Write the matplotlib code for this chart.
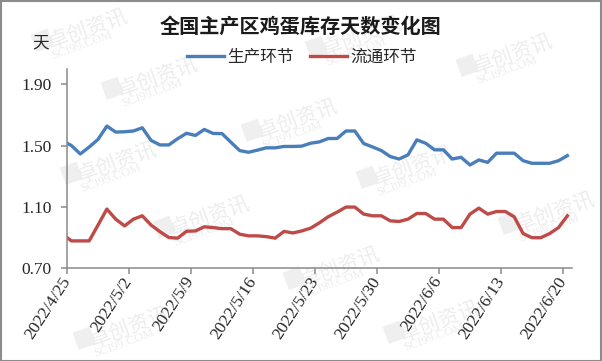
import matplotlib
matplotlib.use("Agg")
import matplotlib.pyplot as plt
import matplotlib.transforms as mtransforms
from matplotlib.patches import Rectangle
import numpy as np
import pandas as pd

plt.rcParams['font.family'] = ['Noto Sans CJK SC', 'DejaVu Sans']

# daily data, 2022/4/24 .. 2022/6/20 (first day is clipped by the axis)
dates = pd.date_range("2022-04-24", "2022-06-20", freq="D")
production = [1.53, 1.50, 1.445, 1.49, 1.54, 1.627, 1.588, 1.59, 1.595, 1.616,
              1.533, 1.504, 1.504, 1.545, 1.58, 1.566, 1.605, 1.579, 1.578, 1.522,
              1.467, 1.456, 1.47, 1.485, 1.485, 1.494, 1.494, 1.496, 1.515, 1.524,
              1.546, 1.546, 1.595, 1.595, 1.513, 1.491, 1.467, 1.428, 1.412, 1.439,
              1.537, 1.515, 1.472, 1.472, 1.412, 1.423, 1.373, 1.406, 1.39, 1.45,
              1.45, 1.45, 1.401, 1.384, 1.384, 1.384, 1.401, 1.434]
circulation = [0.92, 0.877, 0.877, 0.877, 0.98, 1.085, 1.019, 0.975, 1.019, 1.041,
               0.98, 0.937, 0.899, 0.895, 0.94, 0.942, 0.969, 0.964, 0.957, 0.957,
               0.921, 0.91, 0.91, 0.905, 0.895, 0.939, 0.929, 0.942, 0.96, 0.995,
               1.035, 1.065, 1.098, 1.098, 1.052, 1.041, 1.041, 1.008, 1.004, 1.019,
               1.056, 1.056, 1.019, 1.019, 0.964, 0.964, 1.052, 1.091, 1.052, 1.069,
               1.069, 1.034, 0.925, 0.898, 0.898, 0.925, 0.964, 1.041]
tick_dates = pd.date_range("2022-04-25", "2022-06-20", freq="7D")
tick_labels = [f"{d.year}/{d.month}/{d.day}" for d in tick_dates]
y_ticks = [0.70, 1.10, 1.50, 1.90]

W, H = 602, 361
fig = plt.figure(figsize=(W / 100, H / 100), dpi=100)

# faint watermarks (behind the chart)
wm_pos = [(88, 30), (362, 37), (158, 78), (513, 55), (298, 120), (117, 163),
          (210, 217), (413, 167), (555, 213), (130, 328), (440, 322), (340, 268)]
for cx, cy in wm_pos:
    fig.text(cx / W, 1 - cy / H, "卓创资讯", fontsize=15, color="#ededed",
             rotation=20, ha="center", va="center", zorder=0)
    fig.text((cx - 6) / W, 1 - (cy + 15) / H, "SCI99.COM", fontsize=9,
             color="#ededed", rotation=20, ha="center", va="center",
             family="Liberation Serif", zorder=0)
    fig.text((cx - 46) / W, 1 - (cy + 9) / H, "■", fontsize=17, color="#efefef",
             rotation=20, ha="center", va="center", family="DejaVu Sans", zorder=0)

ax = fig.add_axes([67 / W, 1 - 268 / H, 504.8 / W, 199 / H])
ax.set_zorder(1)
ax.patch.set_alpha(0)

x = (dates - pd.Timestamp("2022-04-25")).days.values
ax.plot(x, production, color="#4a7ebb", lw=2.4, solid_joinstyle="round",
        label="生产环节")
ax.plot(x, circulation, color="#be4b48", lw=2.4, solid_joinstyle="round",
        label="流通环节")

ax.set_xlim(-0.5, 56.5)
ax.set_ylim(0.70, 2.00)
ax.set_yticks(y_ticks)
ax.set_yticklabels([f"{v:.2f}" for v in y_ticks], family="Liberation Serif",
                   fontsize=12.5, color="#262626")
tick_x = (tick_dates - pd.Timestamp("2022-04-25")).days.values - 0.5
ax.set_xticks(tick_x)
ax.set_xticklabels(tick_labels, family="Liberation Serif", fontsize=12.5,
                   color="#262626", rotation=57, ha="right", va="center",
                   rotation_mode="anchor")
shift = mtransforms.ScaledTranslation(6 / 100, -12 / 100, fig.dpi_scale_trans)
for lab in ax.get_xticklabels():
    lab.set_transform(lab.get_transform() + shift)

for s in ["top", "right"]:
    ax.spines[s].set_visible(False)
for s in ["left", "bottom"]:
    ax.spines[s].set_color("#8a8a8a")
    ax.spines[s].set_linewidth(1.1)
ax.tick_params(axis="both", direction="out", length=4, width=1.1, color="#8a8a8a")
ax.tick_params(axis="y", pad=7)

fig.text(301 / W, 1 - 26 / H, "全国主产区鸡蛋库存天数变化图", fontsize=14.5,
         fontweight="bold", ha="center", va="center", color="#1a1a1a")
fig.text(41 / W, 1 - 43 / H, "天", fontsize=12, ha="center", va="center",
         color="#262626")

leg = fig.legend(loc="center", bbox_to_anchor=(302 / W, 1 - 57 / H), ncol=2,
                 frameon=False, fontsize=12, handlelength=2.2, handletextpad=0.2,
                 columnspacing=1.0, labelcolor="#262626")
leg.set_zorder(2)

fig.patches.append(Rectangle((0.5 / W, 0.5 / H), (W - 1.5) / W, (H - 1.5) / H,
                             transform=fig.transFigure, fill=False,
                             edgecolor="#8c8c8c", lw=1.5))

fig.savefig("out.png", dpi=100)
